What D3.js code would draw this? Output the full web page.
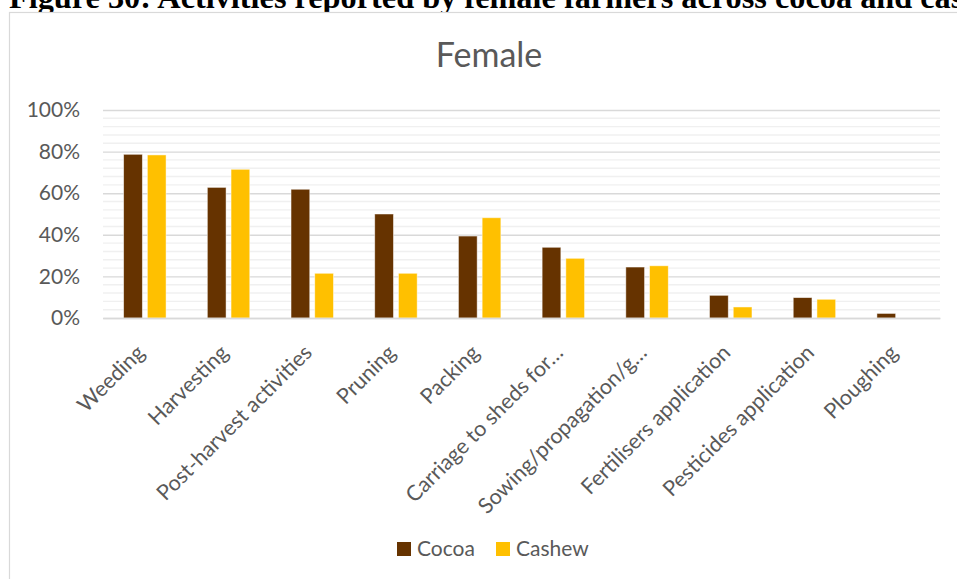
<!DOCTYPE html>
<html>
<head>
<meta charset="utf-8">
<script src="https://cdn.jsdelivr.net/npm/d3@7"></script>
<style>
  html, body { margin: 0; padding: 0; background: #fff; }
  svg { display: block; }
</style>
</head>
<body>
<svg id="chart" width="957" height="579"></svg>
<script>
// Activities reported by female farmers, share of respondents per crop
const activities = [
  "Weeding", "Harvesting", "Post-harvest activities", "Pruning", "Packing",
  "Carriage to sheds for\u2026", "Sowing/propagation/g\u2026",
  "Fertilisers application", "Pesticides application", "Ploughing"
];
const cocoa  = [0.787, 0.628, 0.619, 0.500, 0.394, 0.340, 0.245, 0.109, 0.098, 0.022];
const cashew = [0.784, 0.715, 0.215, 0.215, 0.482, 0.287, 0.251, 0.053, 0.090, 0.000];
const seriesNames = ["Cocoa", "Cashew"];
const seriesColors = ["#663300", "#FFC000"];
const yTicks = [0, 0.2, 0.4, 0.6, 0.8, 1.0];

const svg = d3.select("#chart");
const W = 957, H = 579;
const font = "Lato, 'Open Sans', sans-serif";
const textGray = "#595959";

// Document caption above the chart frame
svg.append("text")
  .attr("x", 9).attr("y", 8)
  .attr("font-family", "'Liberation Serif', 'Times New Roman', serif")
  .attr("font-weight", "bold")
  .attr("font-size", 32.3)
  .attr("fill", "#000")
  .text("Figure 30: Activities reported by female farmers across cocoa and cashew");

// Chart frame
svg.append("rect")
  .attr("x", 9.5).attr("y", 12.5)
  .attr("width", W + 20).attr("height", H + 20)
  .attr("fill", "#fff")
  .attr("stroke", "#d9d9d9")
  .attr("stroke-width", 1.2);

// Chart title
svg.append("text")
  .attr("x", 489).attr("y", 67)
  .attr("text-anchor", "middle")
  .attr("font-family", font)
  .attr("font-size", 34)
  .attr("fill", textGray)
  .text("Female");

const plot = { left: 103, right: 940, top: 110, bottom: 318 };

const x = d3.scaleBand()
  .domain(activities)
  .range([plot.left, plot.right])
  .paddingInner(0)
  .paddingOuter(0);

const y = d3.scaleLinear()
  .domain([0, 1])
  .range([plot.bottom, plot.top]);

const xSub = d3.scaleBand()
  .domain(seriesNames)
  .range([0, x.bandwidth()])
  .paddingInner(0.21)
  .paddingOuter(0.87);

// Minor gridlines every 4%
const minor = d3.range(0, 1.0001, 0.04).filter(v => Math.round(v * 100) % 20 !== 0);
svg.append("g")
  .selectAll("line")
  .data(minor)
  .join("line")
  .attr("x1", plot.left).attr("x2", plot.right)
  .attr("y1", d => y(d)).attr("y2", d => y(d))
  .attr("stroke", "#f0f0f0")
  .attr("stroke-width", 1.4);

// Major gridlines and y-axis labels
const yAxis = d3.axisLeft(y)
  .tickValues(yTicks)
  .tickFormat(d3.format(".0%"))
  .tickSize(-(plot.right - plot.left))
  .tickPadding(23);

const gy = svg.append("g")
  .attr("transform", `translate(${plot.left},0)`)
  .call(yAxis);
gy.select(".domain").remove();
gy.selectAll(".tick line")
  .attr("stroke", "#d9d9d9")
  .attr("stroke-width", 1.4);
gy.selectAll(".tick text")
  .attr("font-family", font)
  .attr("font-size", 21)
  .attr("fill", textGray);

// Bars
const series = [cocoa, cashew];
const gBars = svg.append("g");
series.forEach((vals, si) => {
  gBars.append("g")
    .selectAll("rect")
    .data(vals.map((v, i) => ({ cat: activities[i], v })))
    .join("rect")
    .attr("x", d => x(d.cat) + xSub(seriesNames[si]))
    .attr("width", xSub.bandwidth())
    .attr("y", d => y(d.v))
    .attr("height", d => y(0) - y(d.v))
    .attr("fill", seriesColors[si])
    .attr("stroke", d => d.v > 0 ? "#fff" : "none")
    .attr("stroke-opacity", 0.6)
    .attr("stroke-width", 0.8);
});

// Category axis
const xAxis = d3.axisBottom(x).tickSize(0).tickPadding(0);
const gx = svg.append("g")
  .attr("transform", `translate(0,${plot.bottom})`)
  .call(xAxis);
gx.select(".domain")
  .attr("stroke", "#d9d9d9")
  .attr("stroke-width", 1.4);
gx.selectAll(".tick text")
  .attr("font-family", font)
  .attr("font-size", 21.5)
  .attr("fill", textGray)
  .attr("text-anchor", "end")
  .attr("dy", 0)
  .attr("transform", "translate(1,36) rotate(-45)");

// Legend
const legend = svg.append("g").attr("transform", "translate(397,542)");
const legendItems = legend.selectAll("g")
  .data(seriesNames)
  .join("g")
  .attr("transform", (d, i) => `translate(${i * 99},0)`);
legendItems.append("rect")
  .attr("width", 14).attr("height", 14)
  .attr("fill", (d, i) => seriesColors[i]);
legendItems.append("text")
  .attr("x", 20).attr("y", 14)
  .attr("font-family", font)
  .attr("font-size", 21)
  .attr("fill", textGray)
  .text(d => d);
</script>
</body>
</html>
